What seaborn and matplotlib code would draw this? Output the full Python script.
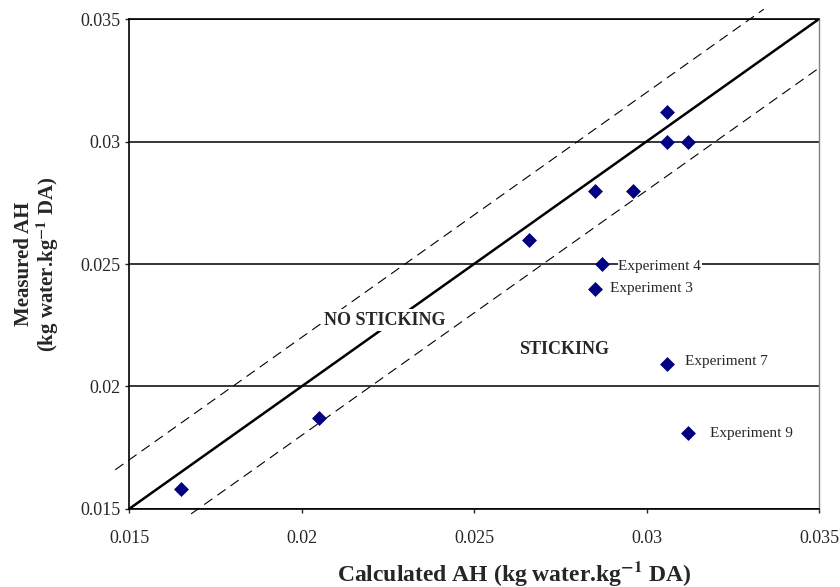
import matplotlib
matplotlib.use("Agg")
import matplotlib.pyplot as plt
import seaborn as sns
import pandas as pd

# measured vs calculated absolute humidity
calculated_ah = [0.0165, 0.0205, 0.0266, 0.0285, 0.0296, 0.0306, 0.0306, 0.0312,
                 0.0287, 0.0285, 0.0306, 0.0312]
measured_ah = [0.0158, 0.0187, 0.0260, 0.0280, 0.0280, 0.0312, 0.0300, 0.0300,
               0.0250, 0.0240, 0.0209, 0.0181]
point_labels = ["", "", "", "", "", "", "", "",
                "Experiment 4", "Experiment 3", "Experiment 7", "Experiment 9"]

# y = x line and the +/- 0.002 band
line_x = [0.015, 0.035]
line_y = [0.015, 0.035]
upper_x = [0.0146, 0.0334]
upper_y = [0.0166, 0.0354]
lower_x = [0.0168, 0.035]
lower_y = [0.0148, 0.033]

ticks = [0.015, 0.02, 0.025, 0.03, 0.035]
tick_labels = ["0.015", "0.02", "0.025", "0.03", "0.035"]

df = pd.DataFrame({"calc": calculated_ah, "meas": measured_ah, "label": point_labels})

sns.set_style("white")
plt.rcParams["font.family"] = ["Liberation Serif", "DejaVu Serif"]
plt.rcParams["mathtext.fontset"] = "stix"

fig = plt.figure(figsize=(8.4, 5.87), dpi=100)
ax = fig.add_axes([0.1536, 0.1329, 0.8214, 0.8347])

ax.set_axisbelow(True)
ax.yaxis.grid(True, color="black", linewidth=1.1)

ax.plot(line_x, line_y, color="black", linewidth=1.8, zorder=2)
for xs, ys in [(upper_x, upper_y), (lower_x, lower_y)]:
    ax.plot(xs, ys, color="black", linewidth=0.8, dashes=(9, 5.5),
            clip_on=False, zorder=2)

sns.scatterplot(data=df, x="calc", y="meas", ax=ax, marker="D", s=50,
                color="#000080", edgecolor="#000080", linewidth=0.5, zorder=4)

offsets = {"Experiment 4": (12, -2), "Experiment 3": (11, 0),
           "Experiment 7": (13, 2), "Experiment 9": (16, 0)}
for _, row in df[df["label"] != ""].iterrows():
    ax.annotate(row["label"], (row["calc"], row["meas"]),
                xytext=offsets[row["label"]], textcoords="offset points",
                ha="left", va="center", fontsize=11,
                bbox=dict(facecolor="white", edgecolor="none", pad=0.5), zorder=5)

ax.text(0.02242, 0.02271, "NO STICKING", ha="center", va="center",
        fontsize=13, fontweight="bold",
        bbox=dict(facecolor="white", edgecolor="none", pad=1.5), zorder=5)
ax.text(0.02761, 0.02153, "STICKING", ha="center", va="center",
        fontsize=13, fontweight="bold", zorder=5)

ax.set_xlim(0.015, 0.035)
ax.set_ylim(0.015, 0.035)
ax.set_xticks(ticks)
ax.set_xticklabels(tick_labels)
ax.set_yticks(ticks)
ax.set_yticklabels(tick_labels)
ax.tick_params(axis="x", direction="out", length=3, width=1, pad=12, labelsize=13)
ax.tick_params(axis="y", direction="out", length=3, width=1, pad=3, labelsize=13)
ax.tick_params(left=True, bottom=True)

for side in ["left", "bottom", "top"]:
    ax.spines[side].set_color("black")
    ax.spines[side].set_linewidth(1.2)
ax.spines["right"].set_color("#808080")
ax.spines["right"].set_linewidth(1.0)

ax.set_xlabel(r"Calculated AH (kg water.kg$^{\mathbf{-1}}$ DA)",
              fontsize=17, fontweight="bold")
ax.xaxis.set_label_coords(0.558, -0.102)
ax.set_ylabel("Measured AH\n" + r"(kg water.kg$^{\mathbf{-1}}$ DA)",
              fontsize=15, fontweight="bold", linespacing=1.0)
ax.yaxis.set_label_coords(-0.099, 0.5)

fig.savefig("out.png", dpi=100)
